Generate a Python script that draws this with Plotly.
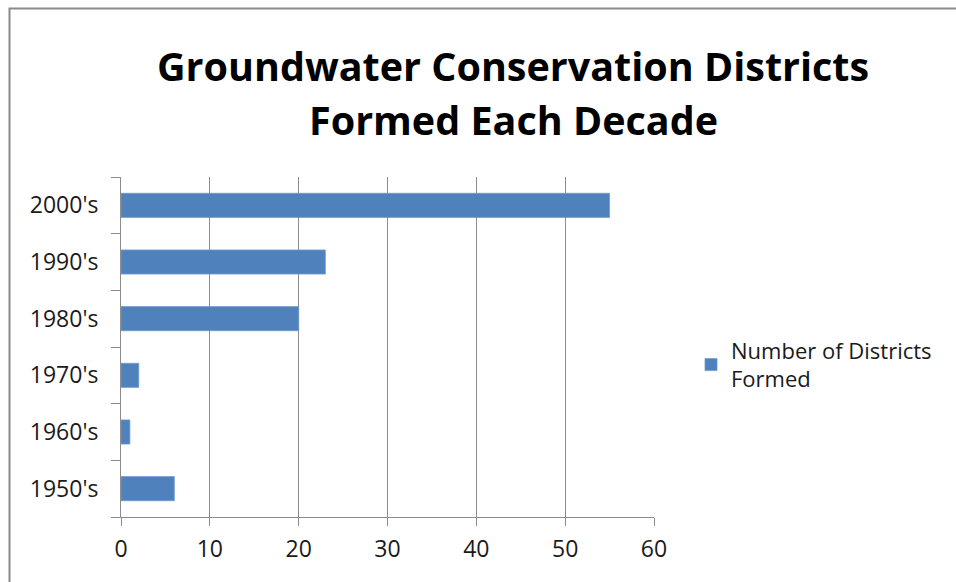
import plotly.graph_objects as go

# Groundwater conservation districts formed per decade
decades = ["1950's", "1960's", "1970's", "1980's", "1990's", "2000's"]
districts_formed = [6, 1, 2, 20, 23, 55]
series_name = "Number of Districts<br>Formed"
x_ticks = [0, 10, 20, 30, 40, 50, 60]

W, H = 956, 582
L, R, T, B = 121, 654, 177, 517  # plot area in pixels
pw, ph = R - L, B - T

def px_x(x):
    return (x - L) / pw

def px_y(y):
    return (B - y) / ph

bar_color = "#4F81BD"
grid_color = "#8C8C8C"
font_family = "Open Sans, Lato, DejaVu Sans, sans-serif"
tick_font = dict(size=23, family=font_family, color="#1a1a1a")

fig = go.Figure()
fig.add_trace(go.Bar(
    y=decades,
    x=districts_formed,
    orientation="h",
    name=series_name,
    marker=dict(color=bar_color, line=dict(color="#6F9AD0", width=0.8)),
    showlegend=True,
))

fig.update_layout(
    width=W,
    height=H,
    margin=dict(l=L, r=W - R, t=T, b=H - B, pad=0),
    paper_bgcolor="white",
    plot_bgcolor="white",
    bargap=0.575,
    font=dict(family=font_family, color="#1a1a1a", size=22),
    showlegend=True,
    legend=dict(
        x=px_x(691), y=px_y(365), xanchor="left", yanchor="middle",
        font=dict(size=22, family=font_family, color="#1a1a1a"),
        bgcolor="rgba(0,0,0,0)", itemwidth=30,
    ),
    xaxis=dict(
        range=[0, 60],
        tickvals=x_ticks,
        ticktext=[str(v) for v in x_ticks],
        showgrid=True, gridcolor=grid_color, gridwidth=1,
        showline=True, linecolor=grid_color, linewidth=1,
        ticks="outside", ticklen=8, tickcolor=grid_color,
        ticklabelstandoff=3,
        tickfont=tick_font,
        zeroline=False,
        fixedrange=True,
    ),
    yaxis=dict(
        categoryorder="array", categoryarray=decades,
        showgrid=False,
        showline=True, linecolor=grid_color, linewidth=1,
        ticks="outside", ticklen=9, tickcolor=grid_color,
        tickson="boundaries",
        ticklabelstandoff=17,
        tickfont=tick_font,
        fixedrange=True,
    ),
)

# Chart frame border
fig.add_shape(
    type="rect", xref="paper", yref="paper",
    x0=px_x(9.5), x1=px_x(1100), y0=px_y(8.5), y1=px_y(700),
    line=dict(color="#8A8A8A", width=2), fillcolor="rgba(0,0,0,0)",
    layer="below",
)

# Two-line bold title
title_font = dict(family="Open Sans, Lato, sans-serif", size=39.5, color="black")
fig.add_annotation(
    text="<b>Groundwater Conservation Districts</b>",
    xref="paper", yref="paper", x=px_x(513), y=px_y(66),
    xanchor="center", yanchor="middle", showarrow=False, font=title_font,
)
fig.add_annotation(
    text="<b>Formed Each Decade</b>",
    xref="paper", yref="paper", x=px_x(513), y=px_y(120),
    xanchor="center", yanchor="middle", showarrow=False, font=title_font,
)

fig.write_html("out.html")
